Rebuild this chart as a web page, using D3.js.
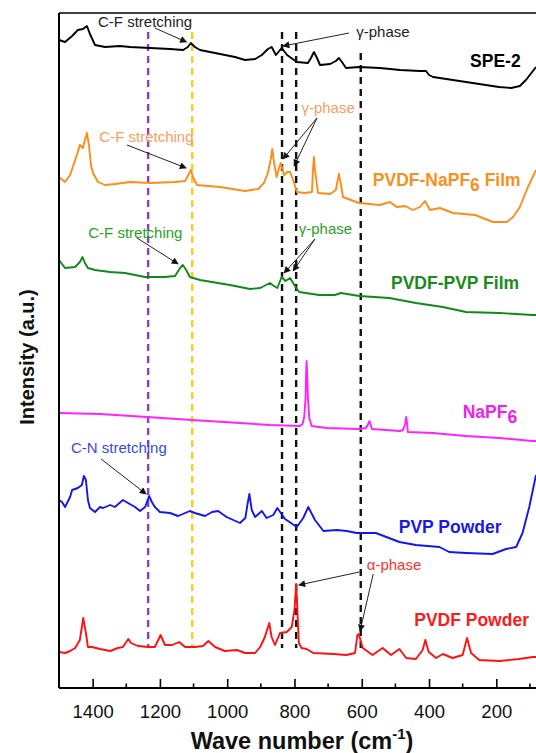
<!DOCTYPE html>
<html>
<head>
<meta charset="utf-8">
<script src="https://cdn.jsdelivr.net/npm/d3@7"></script>
<style>
  html, body { margin: 0; padding: 0; background: #fff; }
  svg { display: block; font-family: Arial, "Liberation Sans", sans-serif; }
</style>
</head>
<body>
<svg id="chart" width="536" height="753"></svg>
<script>
// ---- data: [wavenumber (cm-1), intensity (a.u., offset stacked)] ----
const spe2 = [[1500,648],[1482,646],[1461,652],[1444,658],[1429,659],[1417,662],[1408,654],[1393,643],[1363,641],[1319,642],[1289,641],[1229,640],[1170,639],[1131,638],[1117,641],[1108,645],[1096,641],[1081,638],[1036,635],[977,631],[947,628],[917,629],[897,633],[879,639],[868,641],[855,633],[838,640],[822,633],[793,626],[760,625],[751,630],[742,636],[733,630],[724,623],[694,624],[677,627],[668,630],[659,626],[647,620],[608,621],[546,620],[486,618],[427,617],[409,617],[400,613],[388,611],[290,606],[192,601],[156,600],[130,602],[112,608],[82,621]];

const pvdfNapf6Film = [[1500,511],[1482,506],[1467,513],[1452,528],[1444,536],[1438,543],[1429,540],[1423,548],[1417,555],[1411,543],[1405,523],[1399,515],[1384,506],[1363,503],[1334,504],[1289,506],[1229,505],[1155,506],[1125,507],[1117,512],[1108,518],[1102,511],[1090,503],[1021,501],[947,497],[908,499],[891,505],[879,515],[871,528],[866,539],[861,526],[853,511],[846,520],[841,525],[831,513],[822,516],[813,516],[804,508],[793,496],[769,495],[748,496],[745,518],[742,531],[739,518],[730,495],[694,494],[677,498],[668,514],[662,504],[656,491],[608,485],[546,483],[516,486],[496,481],[471,482],[448,478],[427,481],[412,487],[397,478],[367,480],[329,475],[263,473],[248,471],[210,466],[169,466],[150,471],[130,481],[106,501],[82,518]];

const pvdfPvpFilm = [[1500,428],[1482,420],[1452,421],[1438,426],[1430,431],[1423,425],[1414,420],[1393,418],[1348,416],[1304,415],[1244,411],[1185,411],[1155,412],[1140,420],[1132,423],[1122,418],[1111,411],[1081,408],[992,403],[932,399],[902,400],[873,405],[861,402],[851,400],[838,411],[827,407],[813,410],[795,400],[786,396],[727,393],[680,393],[662,395],[607,392],[518,390],[439,385],[359,381],[290,376],[191,375],[92,373],[82,373]];

const napf6 = [[1500,275],[1378,274],[1238,271],[1105,268],[962,265],[873,263],[784,262],[776,264],[771,271],[767,290],[765.5,313],[764,327],[762,313],[760,290],[756,270],[749,262],[704,260],[610,259],[587,260],[581,264],[577,267],[574,264],[570,259],[486,257],[477,258],[471,264],[468,271],[465,264],[463,256],[389,255],[290,252],[191,250],[92,247],[82,247]];

const pvpPowder = [[1500,188],[1491,186],[1482,181],[1467,191],[1461,198],[1444,200],[1432,203],[1426,212],[1420,208],[1414,188],[1408,180],[1393,176],[1378,181],[1369,180],[1348,183],[1334,181],[1310,188],[1295,185],[1274,181],[1259,177],[1244,181],[1232,192],[1224,186],[1215,181],[1200,176],[1170,175],[1146,172],[1125,175],[1111,177],[1096,175],[1066,172],[1045,176],[1027,177],[1002,171],[962,165],[946,170],[940,183],[934,194],[927,178],[917,171],[897,177],[883,170],[863,173],[851,180],[828,169],[793,161],[774,170],[759,181],[739,168],[714,157],[674,158],[645,157],[615,155],[558,155],[488,146],[439,143],[369,141],[340,136],[290,135],[211,134],[171,139],[141,141],[122,155],[102,181],[87,205],[82,213]];

const pvdfPowder = [[1500,36],[1482,35],[1467,37],[1452,40],[1438,48],[1432,61],[1428,70],[1420,55],[1414,41],[1402,41],[1378,39],[1348,37],[1325,40],[1310,41],[1294,49],[1286,45],[1265,42],[1235,41],[1215,41],[1198,53],[1185,43],[1164,43],[1143,46],[1125,41],[1096,41],[1072,42],[1056,47],[1036,41],[1007,37],[971,38],[947,35],[917,35],[902,41],[888,51],[875,65],[868,51],[858,43],[843,55],[823,56],[808,61],[800,78],[795,104],[791,75],[787,45],[779,40],[764,39],[744,35],[685,34],[645,33],[620,35],[613,53],[609,54],[597,40],[568,33],[538,40],[513,33],[488,39],[468,30],[439,29],[419,38],[411,48],[401,36],[379,30],[359,34],[330,30],[300,33],[287,50],[275,35],[251,28],[191,27],[132,29],[92,31],[82,31]];

const majorTicks = [1400, 1200, 1000, 800, 600, 400, 200];
const minorTicks = [1300, 1100, 900, 700, 500, 300, 100];

// reference lines: [wavenumber, top intensity, bottom intensity]
const refLines = [[1235,656,40],[1104,656,40],[837,656,40],[795,656,40],[603,635,40]];

// series labels: [text, subscript, wavenumber at start, intensity]
const seriesLabels = [
  ["SPE-2", "", 278, 627],
  ["PVDF-NaPF", "6", 567, 508],
  ["PVDF-PVP Film", "", 513, 405],
  ["NaPF", "6", 300, 276],
  ["PVP Powder", "", 490, 161],
  ["PVDF Powder", "", 444, 68]
];

// annotations: [text, centre wavenumber, centre intensity, arrows [[from w, from I, to w, to I]...]]
const notes = [
  ["C-F stretching", 1244, 666, [[1215,660,1121,646]]],
  ["γ-phase", 537, 656, [[638,655,834,642]]],
  ["C-F stretching", 1240, 551, [[1298,543,1122,520]]],
  ["γ-phase", 700, 580, [[733,570,834,529],[733,570,801,522]]],
  ["C-F stretching", 1273, 455, [[1268,450,1146,424]]],
  ["γ-phase", 708, 459, [[739,449,831,415],[739,449,804,417]]],
  ["C-N stretching", 1322, 240, [[1375,229,1241,194]]],
  ["α-phase", 504, 123, [[607,116,787,103],[566,114,605,57]]]
];

// ---- styles ----
const series = [
  { data: spe2, color: "#000000" },
  { data: pvdfNapf6Film, color: "#ff8c1a" },
  { data: pvdfPvpFilm, color: "#11881a" },
  { data: napf6, color: "#ff22ff" },
  { data: pvpPowder, color: "#1515ee" },
  { data: pvdfPowder, color: "#ff1111" }
];
const labelColors = ["#000000", "#f7901e", "#1a8a1a", "#ee22ee", "#1a1ae0", "#ff1a1a"];
const refColors = ["#8e3fc0", "#ffcc1a", "#111", "#111", "#111"];
const noteColors = ["#222", "#222", "#f5a060", "#f5a060", "#2aa02a", "#2aa02a", "#3a48dd", "#ff3030"];

const svg = d3.select("#chart");
const x = d3.scaleLinear().domain([1500, 82]).range([59, 536]);
const y = d3.scaleLinear().domain([0, 675]).range([688, 13]);

svg.append("defs").append("marker")
  .attr("id", "arr").attr("viewBox", "0 0 10 10")
  .attr("refX", 9).attr("refY", 5)
  .attr("markerWidth", 9).attr("markerHeight", 7)
  .attr("markerUnits", "userSpaceOnUse")
  .attr("orient", "auto")
  .append("path").attr("d", "M0,0L10,5L0,10z").attr("fill", "#111");

// reference dashed lines
svg.append("g").selectAll("line").data(refLines).join("line")
  .attr("x1", d => x(d[0])).attr("x2", d => x(d[0]))
  .attr("y1", d => y(d[1])).attr("y2", d => y(d[2]))
  .attr("stroke", (d, i) => refColors[i])
  .attr("stroke-width", 2.4)
  .attr("stroke-dasharray", "7,5");

// spectra
const line = d3.line().x(d => x(d[0])).y(d => y(d[1]));
svg.append("g").selectAll("path").data(series).join("path")
  .attr("d", d => line(d.data))
  .attr("fill", "none")
  .attr("stroke", d => d.color)
  .attr("stroke-width", 1.9)
  .attr("stroke-linejoin", "round");

// frame
svg.append("line").attr("x1", 59).attr("x2", 536).attr("y1", y(675)).attr("y2", y(675))
  .attr("stroke", "#000").attr("stroke-width", 1.6);
svg.append("line").attr("x1", 59).attr("x2", 59).attr("y1", y(675)).attr("y2", y(0))
  .attr("stroke", "#000").attr("stroke-width", 2);

// x axis with inward ticks
const xAxis = svg.append("g").attr("transform", `translate(0,${y(0)})`)
  .call(d3.axisBottom(x).tickValues(majorTicks).tickSize(-9).tickPadding(17).tickFormat(d3.format("d")));
xAxis.select(".domain").attr("stroke-width", 2).attr("d", `M59,0H536`);
xAxis.selectAll(".tick line").attr("stroke-width", 1.6);
xAxis.selectAll("text").attr("font-size", 18.5).attr("fill", "#111")
  .attr("font-family", "Arial, 'Liberation Sans', sans-serif");
svg.append("g").attr("transform", `translate(0,${y(0)})`)
  .selectAll("line").data(minorTicks).join("line")
  .attr("x1", d => x(d)).attr("x2", d => x(d)).attr("y1", 0).attr("y2", -4.5)
  .attr("stroke", "#000").attr("stroke-width", 1.6);

// axis titles
const xt = svg.append("text").attr("x", 302).attr("y", 749)
  .attr("text-anchor", "middle").attr("font-size", 23.5).attr("font-weight", "bold").attr("fill", "#111");
xt.append("tspan").text("Wave number (cm");
xt.append("tspan").attr("font-size", 15).attr("dy", -10).text("-1");
xt.append("tspan").attr("dy", 10).text(")");

svg.append("text").attr("transform", "translate(34,357) rotate(-90)")
  .attr("text-anchor", "middle").attr("font-size", 20).attr("font-weight", "bold").attr("fill", "#111")
  .text("Intensity (a.u.)");

// series labels
const lab = svg.append("g").selectAll("text").data(seriesLabels).join("text")
  .attr("x", d => x(d[2])).attr("y", d => y(d[3]))
  .attr("dy", "0.36em")
  .attr("font-size", 17.5).attr("font-weight", "bold")
  .attr("fill", (d, i) => labelColors[i]);
lab.append("tspan").text(d => d[0]);
lab.filter(d => d[1]).append("tspan").attr("dy", 5).text(d => d[1]);
lab.filter(d => d[0] === "PVDF-NaPF").append("tspan").attr("dy", -5).text(" Film");

// annotations
const ng = svg.append("g");
notes.forEach((n, i) => {
  ng.append("text").attr("x", x(n[1])).attr("y", y(n[2])).attr("dy", "0.35em")
    .attr("text-anchor", "middle").attr("font-size", 15).attr("fill", noteColors[i]).text(n[0]);
  n[3].forEach(a => {
    ng.append("line")
      .attr("x1", x(a[0])).attr("y1", y(a[1])).attr("x2", x(a[2])).attr("y2", y(a[3]))
      .attr("stroke", "#222").attr("stroke-width", 1).attr("marker-end", "url(#arr)");
  });
});
</script>
</body>
</html>
